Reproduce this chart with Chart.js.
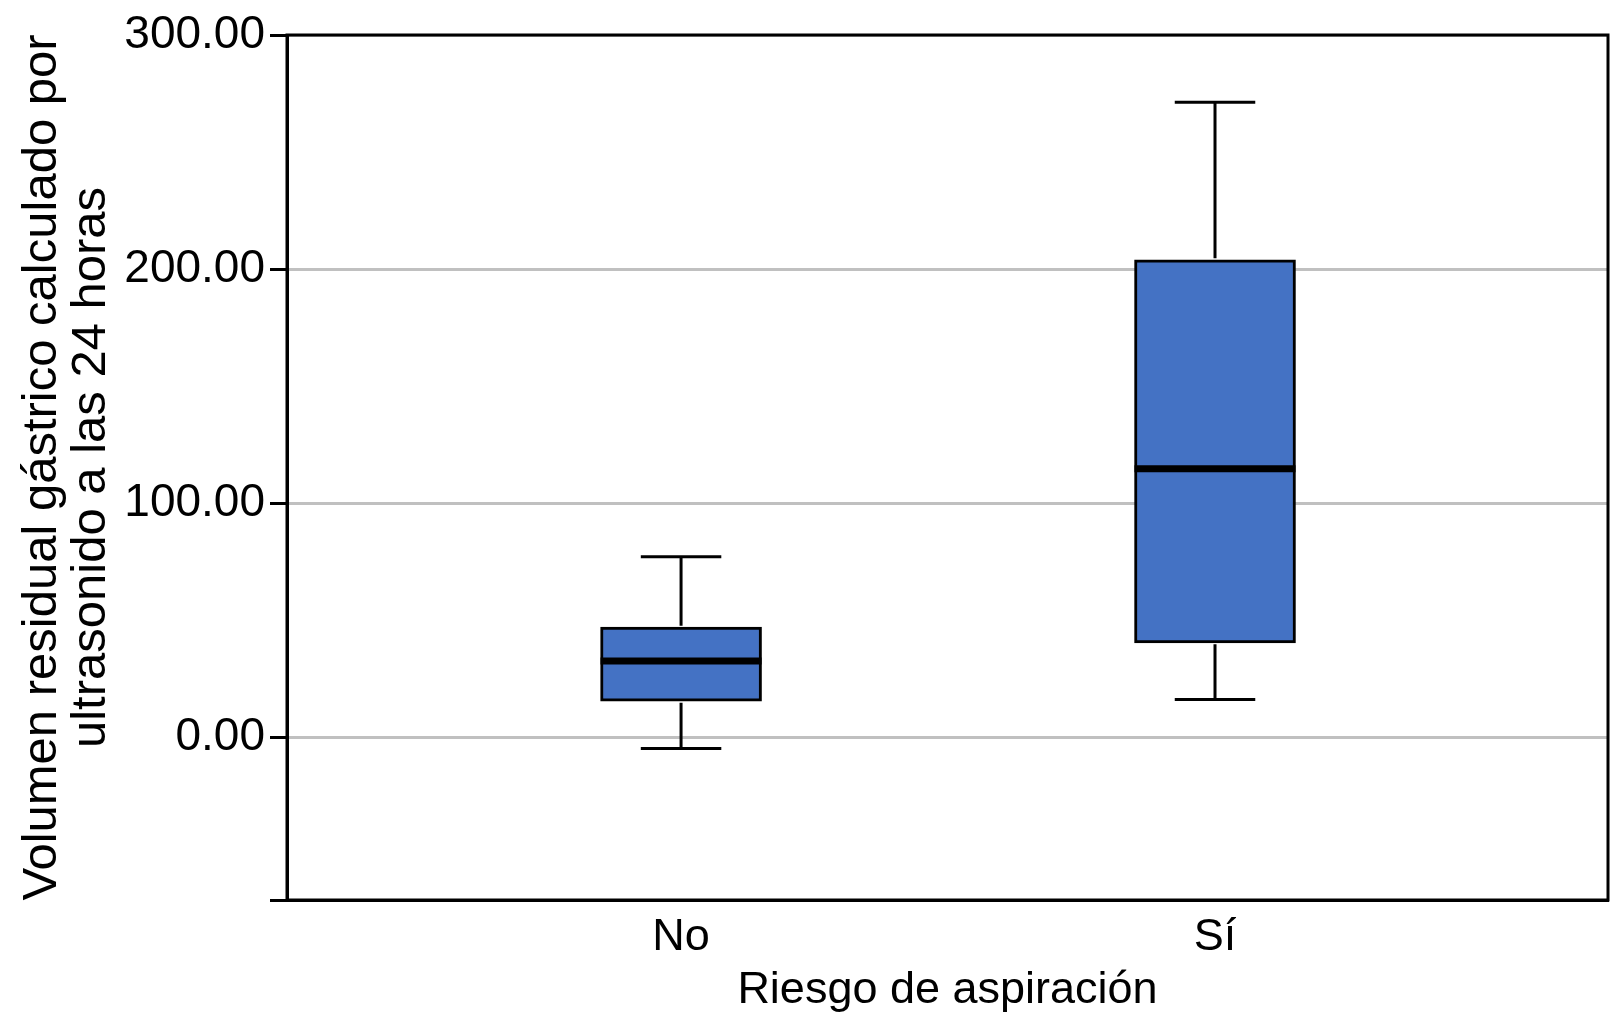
<!DOCTYPE html>
<html>
<head>
<meta charset="utf-8">
<script src="https://cdn.jsdelivr.net/npm/chart.js@4/dist/chart.umd.min.js"></script>
<style>
  html, body { margin: 0; padding: 0; background: #ffffff; }
  #wrap { width: 1611px; height: 1024px; }
</style>
</head>
<body>
<div id="wrap"><canvas id="c" width="1611" height="1024"></canvas></div>
<script>
// ---- data ----
const categories = ['No', 'Sí'];
const whiskerLow = [-4.6, 16.3];
const q1 = [15.6, 40.5];
const median = [32.7, 114.8];
const q3 = [47.2, 204.0];
const whiskerHigh = [77.2, 271.3];
const yTickValues = [0, 100, 200, 300];
const yMin = -69.3;
const yMax = 300;
const xTitle = 'Riesgo de aspiración';
const yTitle = ['Volumen residual gástrico calculado por', 'ultrasonido a las 24 horas'];

const FONT = "'Liberation Sans', Arial, Helvetica, sans-serif";
const PAD_LEFT = 18;

const boxData = categories.map((c, i) => ({ x: i, y: [q1[i], q3[i]] }));

const boxPlugin = {
  id: 'boxExtras',
  afterDatasetsDraw(chart) {
    const ctx = chart.ctx;
    const xs = chart.scales.x, ys = chart.scales.y;
    const meta = chart.getDatasetMeta(0);
    ctx.save();
    ctx.strokeStyle = '#000';
    categories.forEach((c, i) => {
      const cx = xs.getPixelForValue(i);
      const w = meta.data[i].width;
      const half = w / 2;
      const cap = w / 4;
      const yLo = ys.getPixelForValue(whiskerLow[i]);
      const yQ1 = ys.getPixelForValue(q1[i]);
      const yQ3 = ys.getPixelForValue(q3[i]);
      const yHi = ys.getPixelForValue(whiskerHigh[i]);
      const yMed = ys.getPixelForValue(median[i]);
      ctx.lineWidth = 3;
      ctx.beginPath();
      ctx.moveTo(cx, yQ3 - 1.5); ctx.lineTo(cx, yHi);
      ctx.moveTo(cx - cap, yHi); ctx.lineTo(cx + cap, yHi);
      ctx.moveTo(cx, yQ1 + 1.5); ctx.lineTo(cx, yLo);
      ctx.moveTo(cx - cap, yLo); ctx.lineTo(cx + cap, yLo);
      ctx.stroke();
      ctx.lineWidth = 7;
      ctx.beginPath();
      ctx.moveTo(cx - half, yMed); ctx.lineTo(cx + half, yMed);
      ctx.stroke();
    });
    ctx.restore();
  },
  afterDraw(chart) {
    const a = chart.chartArea;
    const ctx = chart.ctx;
    ctx.save();
    ctx.strokeStyle = '#000';
    ctx.lineWidth = 3;
    ctx.strokeRect(a.left, a.top, a.right - a.left, a.bottom - a.top);
    ctx.restore();
  }
};

new Chart(document.getElementById('c'), {
  type: 'bar',
  data: {
    datasets: [{
      data: boxData,
      backgroundColor: '#4472C4',
      borderColor: '#000000',
      borderWidth: 3,
      borderSkipped: false,
      barThickness: 161
    }]
  },
  options: {
    responsive: false,
    animation: false,
    devicePixelRatio: 1,
    layout: { padding: { top: 35, right: 3, left: PAD_LEFT, bottom: 11 } },
    plugins: { legend: { display: false }, tooltip: { enabled: false } },
    scales: {
      x: {
        type: 'linear',
        offset: false,
        min: -0.738,
        max: 1.736,
        afterBuildTicks(s) { s.ticks = categories.map((c, i) => ({ value: i })); },
        ticks: {
          callback: (v) => categories[v],
          font: { family: FONT, size: 45, lineHeight: 1.0 },
          color: '#000',
          padding: 15,
          maxRotation: 0,
          autoSkip: false
        },
        grid: { display: false, drawTicks: false, offset: false },
        border: { display: true, color: '#000', width: 3 },
        title: {
          display: true,
          text: xTitle,
          font: { family: FONT, size: 45, lineHeight: 1.0 },
          color: '#000',
          padding: { top: -7, bottom: 0 }
        }
      },
      y: {
        min: yMin,
        max: yMax,
        afterBuildTicks(s) { s.ticks = [{ value: yMin }].concat(yTickValues.map(v => ({ value: v }))); },
        afterFit(s) { s.width = 287 - PAD_LEFT; },
        ticks: {
          callback: (v) => (v === yMin ? '' : Number(v).toFixed(2)),
          font: { family: FONT, size: 46 },
          color: '#000',
          padding: 5,
          autoSkip: false
        },
        grid: {
          color: '#c0c0c0',
          lineWidth: 3,
          tickColor: '#000',
          tickLength: 17,
          tickWidth: 3
        },
        border: { display: true, color: '#000', width: 3 },
        title: {
          display: true,
          text: yTitle,
          font: { family: FONT, size: 49, lineHeight: 1.0 },
          color: '#000',
          padding: { top: 0, bottom: 0 }
        }
      }
    }
  },
  plugins: [boxPlugin]
});
</script>
</body>
</html>
